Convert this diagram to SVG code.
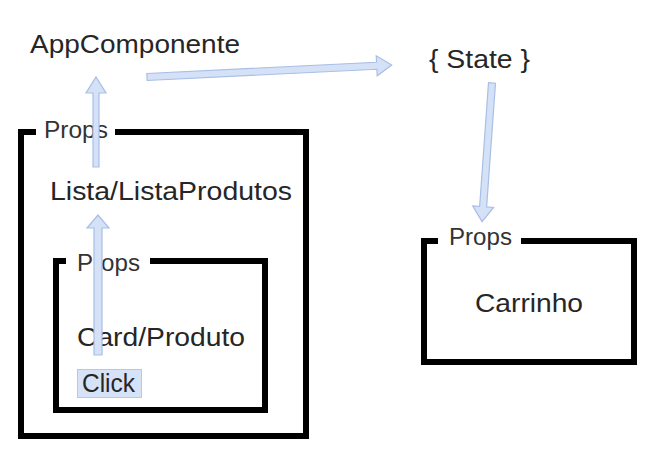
<svg xmlns="http://www.w3.org/2000/svg" width="664" height="466" viewBox="0 0 664 466">
<style>
.t{font-family:"Liberation Sans",Arial,sans-serif;font-size:25px;fill:#262626}
.p{font-family:"Liberation Sans",Arial,sans-serif;font-size:23px;fill:#333}
.box{fill:none;stroke:#000;stroke-width:6;stroke-linecap:square}
.arr{fill:#d4e1f6;stroke:#a8bfe6;stroke-width:1.2;stroke-linejoin:miter}
</style>
<rect width="664" height="466" fill="#fff"/>
<g id="app"><text class="t" x="30" y="53" textLength="210" lengthAdjust="spacingAndGlyphs">AppComponente</text></g>
<g id="state"><text class="t" x="429" y="68" textLength="101" lengthAdjust="spacingAndGlyphs">{ State }</text></g>
<g id="lista">
<path class="box" d="M33,132 H21 V436 H306 V132 H118"/>
<text class="p" x="44" y="138" textLength="64" lengthAdjust="spacingAndGlyphs">Props</text>
<text class="t" x="50" y="200" textLength="242" lengthAdjust="spacingAndGlyphs">Lista/ListaProdutos</text>
</g>
<g id="card">
<path class="box" d="M63,261 H56 V410 H265 V261 H153"/>
<text class="p" x="77" y="271" textLength="63" lengthAdjust="spacingAndGlyphs">Props</text>
<text class="t" x="77" y="346" textLength="168" lengthAdjust="spacingAndGlyphs">Card/Produto</text>
</g>
<g id="click">
<rect x="77.5" y="369.5" width="64" height="28" fill="#d6e2f7" stroke="#b4c8ea" stroke-width="1"/>
<text class="t" x="82" y="392" font-size="23" textLength="53" lengthAdjust="spacingAndGlyphs">Click</text>
</g>
<g id="carrinho">
<path class="box" d="M435,241 H424 V362 H634 V241 H524"/>
<text class="p" x="449" y="245" textLength="63" lengthAdjust="spacingAndGlyphs">Props</text>
<text class="t" x="475" y="312" textLength="108" lengthAdjust="spacingAndGlyphs">Carrinho</text>
</g>
<g id="connectors">
<polygon class="arr" transform="translate(147,77) rotate(-2.8)" points="0,-3.5 230,-3.5 230,-10 245,0 230,10 230,3.5 0,3.5"/>
<polygon class="arr" transform="translate(96,167) rotate(-90)" points="0,-3 74,-3 74,-10 90,0 74,10 74,3 0,3"/>
<polygon class="arr" transform="translate(98,355) rotate(-90)" points="0,-4 127,-4 127,-11 140,0 127,11 127,4 0,4"/>
<polygon class="arr" transform="translate(492,83) rotate(94.1)" points="0,-3.5 124,-3.5 124,-10.5 139,0 124,10.5 124,3.5 0,3.5"/>
</g>
</svg>
